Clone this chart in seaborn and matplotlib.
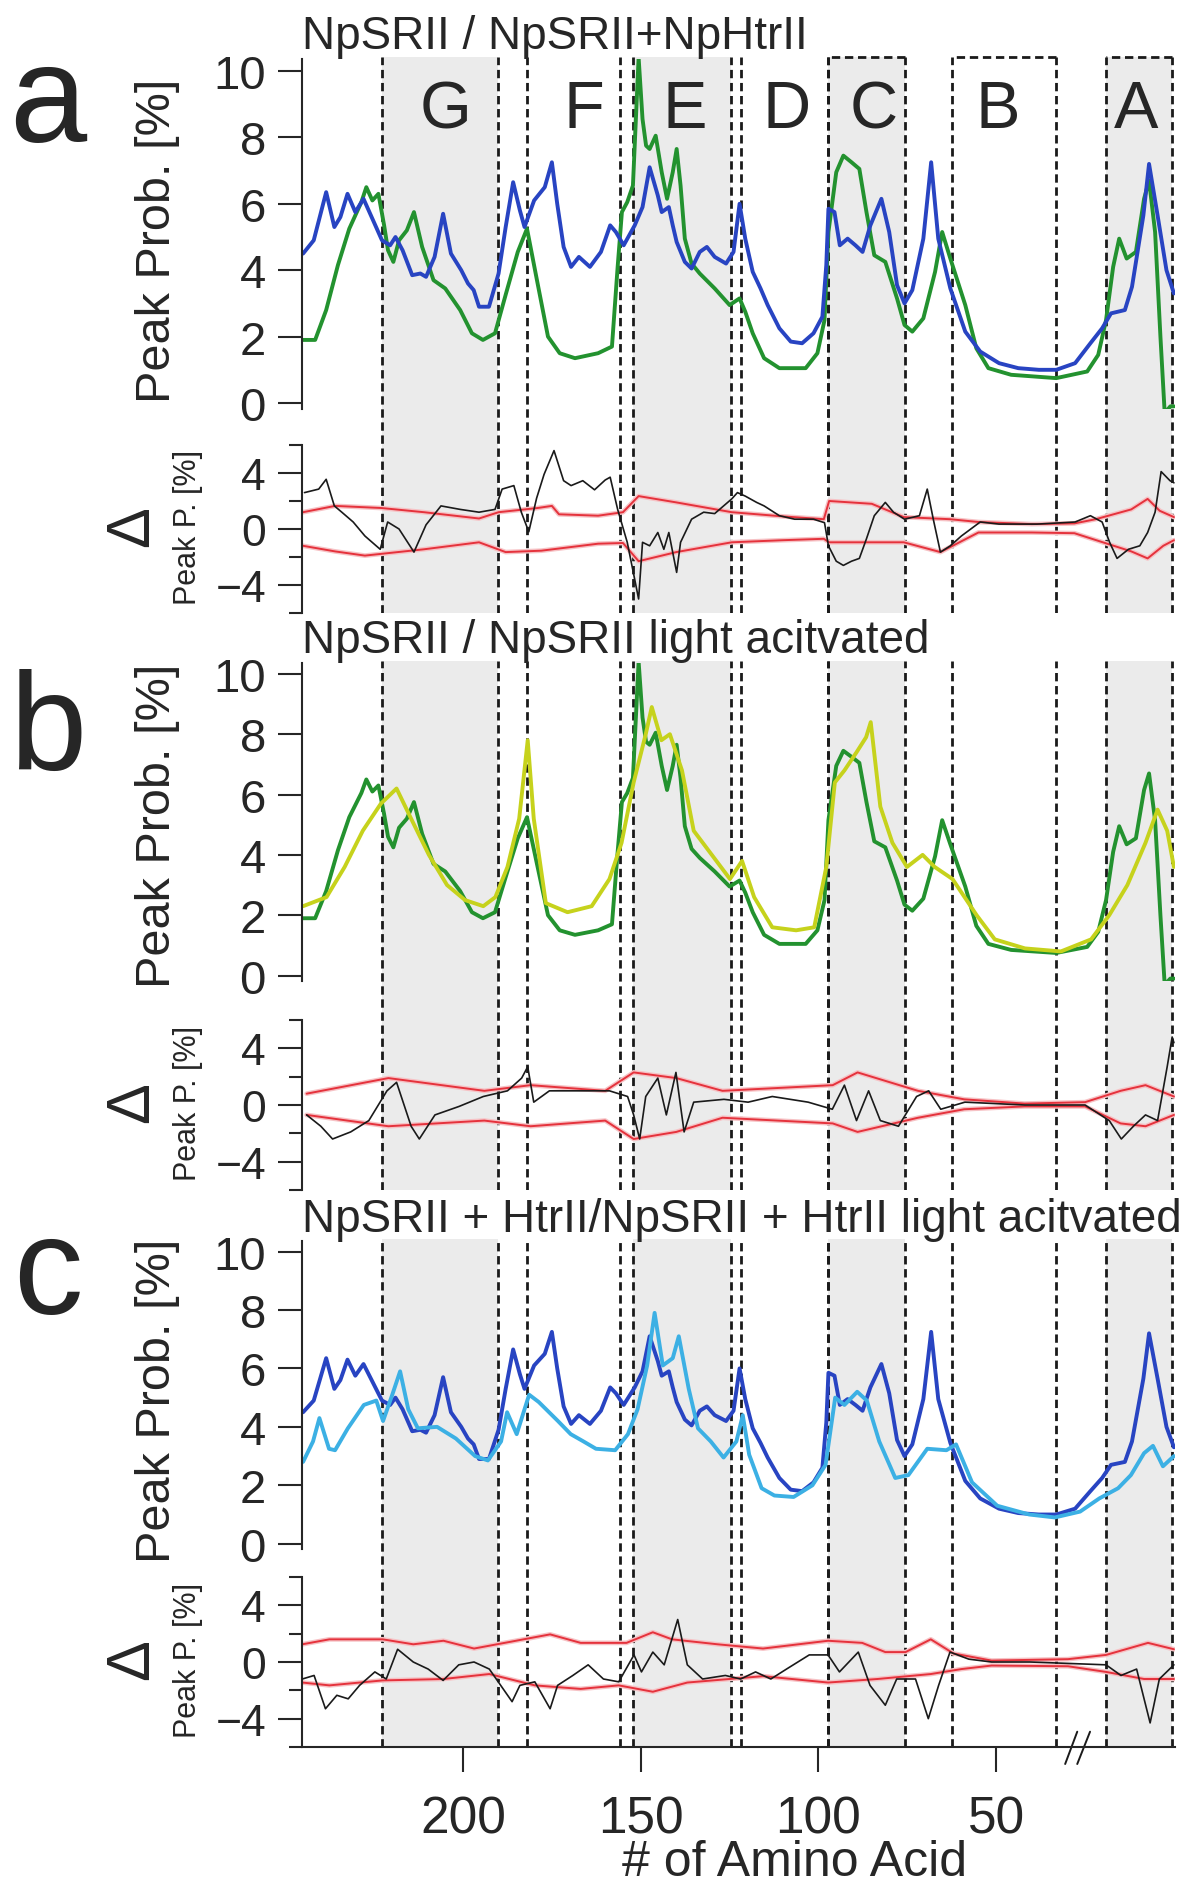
import matplotlib
matplotlib.use("Agg")
import matplotlib.pyplot as plt
import seaborn as sns
from matplotlib.transforms import blended_transform_factory

# ---------------------------------------------------------------- data
# helix regions (residue numbers, N-terminal side on the right)
HELIX_NAMES = ["G", "F", "E", "D", "C", "B", "A"]
HELIX_HI = [222.8, 182.0, 152.2, 121.9, 97.2, 62.4, 19.1]
HELIX_LO = [190.2, 155.9, 124.7, 97.2, 75.6, 33.1, 0.6]
HELIX_SHADED = [True, False, True, False, True, False, True]
HELIX_LABEL_X = [205, 166, 137.5, 109, 84.5, 49.5, 10.5]
HELIX_BOXED = [False, False, False, False, True, True, True]

# NpSRII (dark state)
RES_SRII = [245, 241.6, 238.5, 235.2, 232, 228.6, 227.2, 225.5, 223.8, 222.2, 221.1, 219.6,
            218, 215.8, 213.8, 211.5, 208.3, 205, 200.8, 197.5, 194.4, 191, 187.9, 184.6,
            182, 179.2, 176.1, 172.8, 168.5, 162, 158.1, 156.5, 155.3, 153.8, 152.2, 150.6,
            149.5, 148.5, 147.5, 145.8, 144.1, 142.6, 141, 139.9, 138.8, 137.6, 135.7, 133.4,
            129.2, 125, 122.2, 120.6, 118.5, 115.3, 111, 103.6, 100.3, 98.3, 97.2, 95, 93,
            90.7, 88.5, 86.5, 84.3, 81.2, 77.9, 75.8, 73.6, 70.5, 67.2, 65.2, 62.9, 58.7,
            55.6, 52.2, 45.8, 33.1, 24.4, 21.3, 19.1, 17.1, 15.4, 13.3, 10.7, 8.4, 7.0,
            5.3, 3.8, 2.6, 1.0, 0.0]
VAL_SRII = [1.9, 1.9, 2.8, 4.15, 5.25, 6.05, 6.5, 6.1, 6.3, 5.35, 4.6, 4.25,
            4.9, 5.2, 5.75, 4.7, 3.7, 3.45, 2.8, 2.1, 1.9, 2.1, 3.3, 4.55,
            5.25, 3.7, 2.0, 1.5, 1.35, 1.5, 1.7, 4.1, 5.75, 6.05, 6.55, 10.4,
            8.55, 7.75, 7.65, 8.05, 6.95, 6.15, 6.95, 7.65, 6.55, 4.95, 4.2, 3.9,
            3.45, 2.95, 3.15, 2.75, 2.1, 1.35, 1.05, 1.05, 1.5, 2.5, 5.15, 6.95, 7.45,
            7.25, 7.05, 5.75, 4.45, 4.25, 3.15, 2.35, 2.15, 2.55, 3.95, 5.15, 4.35, 2.95,
            1.65, 1.05, 0.85, 0.75, 0.95, 1.45, 2.5, 4.1, 4.95, 4.35, 4.55, 6.15, 6.7,
            5.15, 2.0, -0.3, -0.1, -0.1]

# NpSRII + NpHtrII (dark state)
RES_COMPLEX = [245, 242, 238.5, 236.2, 234.5, 232.5, 230.3, 228, 225.5, 222.8, 220.5, 219,
               217, 214.3, 212, 210.4, 208, 205.6, 203.4, 200.5, 198.6, 197, 195.5, 192.7,
               190, 188, 185.9, 184, 182.7, 180, 177, 175, 173.5, 171.7, 169.6, 167.4, 164.3,
               161.2, 158.6, 157, 154.8, 151.7, 149.5, 147.5, 145.2, 144.1, 142.1, 141,
               139.9, 137.6, 135.7, 133.4, 131.4, 130.3, 129.2, 126, 123.9, 122.2, 120.6,
               118.5, 116.3, 114.3, 111, 107.8, 104.6, 101.4, 98.9, 97.8, 97.2, 95.5, 94,
               91.8, 89.6, 87.6, 85.4, 82.3, 80.1, 77.9, 75.8, 73.6, 70.5, 68.3, 66.3, 62.9,
               58.7, 54.5, 49.2, 43.8, 38, 33.1, 27.8, 23.5, 20.2, 17.7, 13.8, 11.8, 8.6,
               7.0, 4.6, 2.1, 0.0]
VAL_COMPLEX = [4.5, 4.9, 6.35, 5.3, 5.6, 6.3, 5.75, 6.15, 5.55, 4.9, 4.75, 5.0,
               4.6, 3.85, 3.9, 3.8, 4.4, 5.7, 4.5, 4.0, 3.6, 3.4, 2.9, 2.9,
               3.9, 5.3, 6.65, 5.8, 5.3, 6.1, 6.5, 7.25, 6.0, 4.7, 4.1, 4.4, 4.1,
               4.55, 5.35, 5.15, 4.75, 5.35, 5.9, 7.1, 6.25, 5.75, 5.9, 5.35,
               4.85, 4.25, 4.05, 4.55, 4.7, 4.55, 4.4, 4.2, 4.55, 6.0, 4.95,
               3.95, 3.45, 2.95, 2.25, 1.85, 1.8, 2.1, 2.6, 4.15, 5.85, 5.75, 4.75,
               4.95, 4.75, 4.55, 5.35, 6.15, 5.15, 3.55, 3.0, 3.4, 4.95, 7.25, 4.95, 3.45,
               2.15, 1.55, 1.2, 1.05, 1.0, 1.0, 1.2, 1.8, 2.25, 2.7, 2.8, 3.5, 5.65,
               7.2, 5.65, 4.0, 3.3]

# NpSRII light activated
RES_SRII_LIGHT = [245, 238.4, 233.3, 228.2, 223.1, 218.7, 214.6, 209.6, 204.5, 199.4, 194.3,
                  190.9, 187.5, 184.2, 181.8, 180.1, 176.7, 170.6, 163.8, 158.8, 155.4, 152,
                  148.6, 146.9, 144.2, 141.8, 138.4, 135.1, 130, 124.9, 121.5, 118.1, 113,
                  106.3, 101.2, 97.8, 95.4, 92.7, 89.3, 86.6, 85.3, 82.6, 79.2, 75.1, 70.7,
                  67.3, 62.3, 55.5, 50.4, 41.9, 31.8, 23.3, 18.2, 13.1, 8.0, 4.6, 1.9, 0.0]
VAL_SRII_LIGHT = [2.3, 2.6, 3.6, 4.8, 5.7, 6.2, 5.2, 4.0, 3.0, 2.5, 2.3,
                  2.6, 3.6, 5.2, 7.8, 5.2, 2.4, 2.1, 2.3, 3.2, 4.4, 6.4,
                  8.0, 8.9, 7.8, 8.0, 6.8, 4.8, 4.0, 3.2, 3.8, 2.6, 1.6,
                  1.5, 1.6, 3.6, 6.4, 6.8, 7.4, 7.9, 8.4, 5.6, 4.4, 3.6, 4.0,
                  3.6, 3.2, 2.0, 1.2, 0.9, 0.8, 1.2, 2.0, 3.0, 4.4, 5.5, 4.8, 3.6]

# NpSRII + HtrII light activated
RES_COMPLEX_LIGHT = [245, 242.2, 240.4, 237.7, 236, 232.4, 227.9, 224.4, 222.5, 219.9, 217.7,
                     215.4, 212.7, 207.3, 202, 196.6, 193, 189.3, 187.6, 184.9, 181.4, 178.7,
                     173.3, 169.7, 166.1, 162.6, 157.2, 153.6, 150.9, 148.2, 146.1, 143.8, 141,
                     139.3, 136.5, 133.9, 130.3, 126.7, 123.1, 121.3, 119.5, 116, 112.4, 107,
                     101.7, 98, 95.3, 92.7, 89.1, 86.4, 82.9, 78.4, 74.7, 69.4, 64, 61.3, 56.8,
                     49.7, 40.7, 33.5, 26.4, 21, 15.7, 12.1, 8.4, 5.9, 3.1, 0.0]
VAL_COMPLEX_LIGHT = [2.8, 3.5, 4.3, 3.25, 3.2, 3.95, 4.75, 4.9, 4.2, 5.1, 5.9,
                     4.6, 3.95, 4.0, 3.6, 3.0, 2.85, 3.5, 4.5, 3.75, 5.1, 4.85,
                     4.2, 3.75, 3.5, 3.25, 3.2, 3.75, 4.6, 6.1, 7.9, 6.1, 6.35,
                     7.1, 5.3, 3.95, 3.5, 2.95, 3.5, 4.4, 3.05, 1.9, 1.65, 1.6,
                     2.0, 2.7, 5.0, 4.75, 5.2, 4.9, 3.5, 2.25, 2.35, 3.25, 3.2, 3.4, 2.1,
                     1.3, 1.0, 0.9, 1.1, 1.55, 1.9, 2.35, 3.1, 3.35, 2.65, 3.0]

# difference traces
RES_DIFF_A = [244.6, 240.6, 238.5, 236.2, 234.1, 230.9, 227.6, 223.3, 221.2, 218, 213.8, 210.4,
              206.2, 200.8, 195.5, 191, 189, 185.7, 183.6, 181.5, 179.3, 177.2, 174.4, 171.7,
              169.6, 166.3, 163, 160, 158.6, 156.5, 153.8, 151.7, 150.6, 149.5, 147.5, 145.2,
              143.5, 142.1, 139.9, 138.8, 135.7, 132.3, 129.2, 124.4, 122.8, 120.6, 117.4,
              115.3, 111, 106.7, 101.4, 98.3, 97.2, 95, 93, 90.7, 88.5, 86.5, 84.3, 81.2,
              78.9, 75.8, 71.6, 69.4, 67.7, 65.7, 62.9, 59.8, 54.5, 49.2, 38.5, 27.8, 23.5,
              20.2, 18.1, 16, 12.8, 9.6, 7.4, 5.3, 3.6, 1.1, 0.0]
VAL_DIFF_A = [2.6, 2.85, 3.55, 1.65, 1.2, 0.5, -0.5, -1.45, 0.5, 0.0, -1.65, 0.3,
              1.65, 1.4, 1.2, 1.4, 2.85, 3.1, 1.2, -0.2, 2.2, 3.9, 5.6, 3.45,
              3.1, 3.45, 2.8, 3.5, 3.7, 1.4, -0.95, -3.6, -5.0, -0.95, -1.2, -0.25,
              -1.45, -0.25, -3.1, -0.95, 0.7, 1.2, 1.1, 2.15, 2.6, 2.35, 1.9,
              1.65, 0.95, 0.7, 0.7, 0.45, -1.2, -2.3, -2.6, -2.3, -2.1, -0.7, 0.95, 1.9,
              1.2, 0.7, 0.95, 2.85, 0.7, -1.65, -1.2, -0.5, 0.5, 0.35, 0.35, 0.5, 0.95,
              0.5, -0.95, -2.1, -1.45, -1.2, -0.25, 1.2, 4.1, 3.45, 3.3]

RES_DIFF_B = [244, 240, 236.7, 231.6, 226.5, 221.4, 218.7, 214.6, 212.3, 207.9, 201.1, 194.3,
              187.5, 183.5, 181.8, 180.1, 175.7, 167.2, 158.8, 153.7, 152, 150.3, 148.6, 145.2,
              142.8, 140.1, 137.8, 135.1, 126.6, 119.8, 113, 102.9, 96.1, 92.7, 89.3, 85.9,
              82.6, 77.5, 72.4, 69, 65.6, 58.8, 41.9, 25, 18.2, 14.8, 11.4, 8, 4.6, 1.9,
              0.5, 0.0]
VAL_DIFF_B = [-0.7, -1.5, -2.4, -1.9, -1.1, 1.0, 1.6, -1.5, -2.4, -0.7, -0.1, 0.6,
              1.0, 1.9, 2.7, 0.2, 1.0, 1.0, 1.0, 0.6, -0.7, -2.4, 0.6, 1.9,
              -0.7, 2.3, -1.9, 0.2, 0.4, 0.2, 0.6, 0.2, -0.3, 1.4, -1.1, 1.0,
              -1.1, -1.5, 0.6, 1.0, -0.3, 0.2, 0.0, 0.0, -1.1, -2.4, -1.5, -0.7, -1.1, 2.7,
              4.8, 4.4]

RES_DIFF_C = [245.2, 241.9, 238.7, 235.5, 232.3, 229.1, 224.8, 221.6, 218.4, 214, 209.8, 205.6,
              201.2, 196.9, 192.6, 189.4, 186.2, 184, 179.8, 175.5, 173.4, 169.1, 164.8, 160.5,
              156.2, 151.9, 149.8, 146.6, 143.4, 139.6, 136.9, 132.6, 126.2, 121.9, 117.7,
              113.4, 109, 102.6, 97.3, 94.1, 88.8, 85.5, 81.2, 78, 72.7, 69.1, 66.2, 63,
              57.7, 51.3, 40.5, 29.8, 19.1, 14.9, 10.5, 6.7, 4.1, 0.0]
VAL_DIFF_C = [-1.2, -0.95, -3.3, -2.35, -2.6, -1.65, -0.7, -1.2, 0.9, 0.0, -0.5, -1.3,
              -0.2, 0.0, -0.5, -1.65, -2.8, -1.65, -1.4, -3.3, -1.65, -0.95, -0.2, -1.2,
              -1.4, 0.5, -0.7, 0.7, -0.2, 3.0, -0.2, -1.2, -0.95, -1.2, -0.7,
              -1.2, -0.5, 0.5, 0.5, -0.7, 0.7, -1.65, -3.05, -1.2, -1.2, -4.0, -1.65, 0.7,
              0.2, 0.0, 0.0, -0.1, -0.2, -0.95, -0.5, -4.3, -1.2, -0.2]

# noise envelopes of the difference traces
RES_ENV_A_HI = [245, 236, 223, 211, 195.5, 190, 179, 175, 173, 162, 155, 150.6, 140, 124.4,
                110, 98.5, 97, 85, 76, 63, 55, 40, 28, 22, 12, 7.4, 4, 0]
VAL_ENV_A_HI = [1.2, 1.65, 1.5, 1.2, 0.75, 1.2, 1.5, 1.65, 1.05, 0.95, 1.2, 2.35, 1.9, 1.2,
                0.9, 0.7, 2.0, 1.8, 0.85, 0.7, 0.5, 0.35, 0.4, 0.7, 1.4, 2.15, 1.3, 0.85]
RES_ENV_A_LO = [245, 236, 227.6, 211, 195.5, 188, 178, 162, 155, 150.6, 140, 124.4, 110,
                98.5, 97, 85, 76, 65.7, 55, 40, 28, 20, 12, 7.4, 3, 0]
VAL_ENV_A_LO = [-1.2, -1.6, -1.9, -1.45, -0.95, -1.65, -1.55, -1.05, -1.0, -2.3, -1.65, -0.95,
                -0.8, -0.7, -0.95, -0.95, -0.95, -1.65, -0.25, -0.25, -0.3, -0.95, -1.6, -2.1,
                -1.2, -0.8]
RES_ENV_B_HI = [244, 221, 194, 181, 160, 152, 140, 127, 96, 89, 72, 59, 42, 25, 15, 8, 0]
VAL_ENV_B_HI = [0.8, 1.9, 1.0, 1.4, 1.0, 2.3, 1.9, 1.0, 1.4, 2.3, 1.0, 0.4, 0.1, 0.2, 1.0, 1.4,
                0.6]
RES_ENV_B_LO = [244, 221, 194, 181, 160, 152, 140, 127, 96, 89, 72, 59, 42, 25, 15, 8, 0]
VAL_ENV_B_LO = [-0.7, -1.5, -1.1, -1.5, -1.1, -2.4, -1.9, -0.9, -1.3, -1.9, -0.9, -0.3, -0.1,
                -0.1, -1.3, -1.5, -0.7]
RES_ENV_C_HI = [245.2, 237.6, 222.6, 214, 205.5, 196.9, 188.3, 175.5, 166.9, 154, 146.6, 141.2,
                128.4, 115.6, 97.3, 87.7, 81.2, 75.5, 68.4, 62, 51.3, 29.8, 19.1, 7.3, 0]
VAL_ENV_C_HI = [1.25, 1.6, 1.6, 1.25, 1.5, 0.95, 1.35, 1.95, 1.35, 1.35, 2.1, 1.6,
                1.25, 0.95, 1.5, 1.35, 0.7, 0.7, 1.6, 0.6, 0.1, 0.2, 0.5, 1.35, 0.9]
RES_ENV_C_LO = [245.2, 237.6, 222.6, 205.5, 192.6, 179.8, 166.9, 156.2, 146.6, 136.9, 115.6,
                97.3, 83.4, 68.4, 59.8, 51.3, 29.8, 19.1, 8.4, 0]
VAL_ENV_C_LO = [-1.45, -1.65, -1.3, -1.2, -0.85, -1.65, -1.9, -1.65, -2.1, -1.45, -1.0,
                -1.45, -1.2, -0.85, -0.5, -0.25, -0.3, -0.7, -1.2, -1.2]

X_TICKS = [200, 150, 100, 50]
MAIN_TICKS = [0, 2, 4, 6, 8, 10]
DIFF_TICKS = [-4, 0, 4]
DIFF_MINOR = [-6, -2, 2, 6]

TITLES = ["NpSRII / NpSRII+NpHtrII",
          "NpSRII / NpSRII light acitvated",
          "NpSRII + HtrII/NpSRII + HtrII light acitvated"]

# ---------------------------------------------------------------- style
sns.set_style("ticks")
plt.rcParams["font.family"] = ["Liberation Sans", "DejaVu Sans"]
plt.rcParams["axes.linewidth"] = 1.5

GREEN = "#23922f"
BLUE = "#2844c2"
YELLOW = "#c6d21c"
LIGHT_BLUE = "#3cb0e4"
RED = "#e5323c"
RED_HALO = "#f6c2c5"
SHADE = "#ebebeb"
INK = "#1a1a1a"
DASH = (0, (3.0, 1.7))

W, H, DPI = 1196, 1890, 100
LEFT, RIGHT = 302, 1175
XLIM = (245.3, -0.3)
MAIN_YLIM = (-0.18, 10.36)

fig = plt.figure(figsize=(W / DPI, H / DPI), dpi=DPI)
fig.patch.set_facecolor("white")


def px_axes(top, bottom):
    return fig.add_axes([LEFT / W, 1 - bottom / H, (RIGHT - LEFT) / W, (bottom - top) / H])


def background(top, bottom, boxed):
    bg = px_axes(top, bottom)
    bg.set_xlim(XLIM)
    bg.set_ylim(0, 1)
    bg.axis("off")
    for hi, lo, shaded, box in zip(HELIX_HI, HELIX_LO, HELIX_SHADED, HELIX_BOXED):
        if shaded:
            bg.axvspan(lo, hi, color=SHADE, lw=0, zorder=0)
        for xv in (hi, lo):
            bg.axvline(xv, color=INK, lw=2.0, ls=DASH, zorder=1)
        if boxed and box:
            bg.hlines(1.0, lo, hi, color=INK, lw=2.0, ls=DASH, zorder=1, clip_on=False)
    return bg


def main_axes(top, bottom):
    ax = px_axes(top, bottom)
    ax.set_facecolor("none")
    ax.set_xlim(XLIM)
    ax.set_ylim(MAIN_YLIM)
    for s in ("top", "right", "bottom"):
        ax.spines[s].set_visible(False)
    ax.set_yticks(MAIN_TICKS)
    ax.tick_params(axis="y", direction="out", length=17, width=1.5, labelsize=34, pad=9)
    ax.tick_params(axis="x", bottom=False, labelbottom=False)
    return ax


def diff_axes(top, bottom, last=False):
    ax = px_axes(top, bottom)
    ax.set_facecolor("none")
    ax.set_xlim(XLIM)
    ax.set_ylim(-6, 6)
    for s in ("top", "right"):
        ax.spines[s].set_visible(False)
    ax.set_yticks(DIFF_TICKS)
    ax.set_yticks(DIFF_MINOR, minor=True)
    ax.tick_params(axis="y", which="major", direction="out", length=17, width=1.5,
                   labelsize=32, pad=9)
    ax.tick_params(axis="y", which="minor", direction="out", length=9.5, width=1.5)
    if last:
        ax.set_xticks(X_TICKS)
        ax.tick_params(axis="x", direction="out", length=18, width=1.5, labelsize=37, pad=16)
    else:
        ax.spines["bottom"].set_visible(False)
        ax.tick_params(axis="x", bottom=False, labelbottom=False)
    return ax


def curve(ax, xs, ys, color, lw, z=2):
    sns.lineplot(x=xs, y=ys, ax=ax, color=color, lw=lw, sort=False, estimator=None,
                 solid_joinstyle="round", zorder=z)
    ax.set_xlabel("")
    ax.set_ylabel("")


def side_labels(main_c, diff_c):
    fig.text(157 / W, 1 - main_c / H, "Peak Prob. [%]", fontsize=35, rotation=90,
             ha="center", va="center")
    fig.text(133 / W, 1 - diff_c / H, "\u0394", fontsize=44, rotation=90,
             ha="center", va="center")
    fig.text(188 / W, 1 - diff_c / H, "Peak P. [%]", fontsize=22, rotation=90,
             ha="center", va="center")


groups = [
    dict(bg=(58, 614), main=(60, 410), diff=(446, 614), title=49, letter="a", letter_y=142,
         boxed=True, lab=(241, 527),
         lines=[(RES_SRII, VAL_SRII, GREEN), (RES_COMPLEX, VAL_COMPLEX, BLUE)],
         diff_data=(RES_DIFF_A, VAL_DIFF_A),
         env=((RES_ENV_A_HI, VAL_ENV_A_HI), (RES_ENV_A_LO, VAL_ENV_A_LO))),
    dict(bg=(662, 1191), main=(664, 982), diff=(1021, 1191), title=653, letter="b",
         letter_y=770, boxed=False, lab=(826, 1103),
         lines=[(RES_SRII, VAL_SRII, GREEN), (RES_SRII_LIGHT, VAL_SRII_LIGHT, YELLOW)],
         diff_data=(RES_DIFF_B, VAL_DIFF_B),
         env=((RES_ENV_B_HI, VAL_ENV_B_HI), (RES_ENV_B_LO, VAL_ENV_B_LO))),
    dict(bg=(1240, 1748), main=(1242, 1550), diff=(1578, 1748), title=1232, letter="c",
         letter_y=1314, boxed=False, lab=(1401, 1660),
         lines=[(RES_COMPLEX, VAL_COMPLEX, BLUE), (RES_COMPLEX_LIGHT, VAL_COMPLEX_LIGHT, LIGHT_BLUE)],
         diff_data=(RES_DIFF_C, VAL_DIFF_C),
         env=((RES_ENV_C_HI, VAL_ENV_C_HI), (RES_ENV_C_LO, VAL_ENV_C_LO))),
]

for i, g in enumerate(groups):
    last = i == len(groups) - 1
    background(*g["bg"], g["boxed"])
    ax_m = main_axes(*g["main"])
    for xs, ys, col in g["lines"]:
        curve(ax_m, xs, ys, col, 2.8)
    ax_d = diff_axes(*g["diff"], last=last)
    for xs, ys in g["env"]:
        curve(ax_d, xs, ys, RED_HALO, 3.4, z=1)
        curve(ax_d, xs, ys, RED, 1.4, z=2)
    curve(ax_d, *g["diff_data"], INK, 1.2, z=3)

    fig.text(LEFT / W, 1 - g["title"] / H, TITLES[i], fontsize=33, ha="left", va="baseline")
    fig.text(48 / W, 1 - g["letter_y"] / H, g["letter"], fontsize=100, ha="center",
             va="baseline")
    side_labels(*g["lab"])

    if i == 0:
        for name, lx in zip(HELIX_NAMES, HELIX_LABEL_X):
            ax_m.text(lx, 8.3, name, fontsize=48, ha="center", va="baseline", zorder=5)
    if last:
        # axis break marks on the residue axis
        trans = blended_transform_factory(ax_d.transData, ax_d.transAxes)
        for x0, x1 in ((30.6, 27.2), (27.2, 23.6)):
            ax_d.plot([x0, x1], [-0.1, 0.09], color=INK, lw=1.4, transform=trans,
                      clip_on=False)

fig.text(795 / W, 1 - 1876 / H, "# of Amino Acid", fontsize=36, ha="center", va="baseline")

fig.savefig("out.png", dpi=DPI, facecolor="white")
